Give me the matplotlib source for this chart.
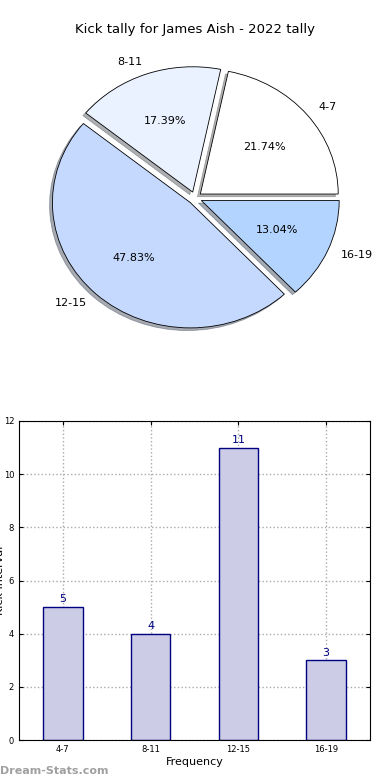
import matplotlib
matplotlib.use("Agg")
import matplotlib.pyplot as plt

groups = ["4-7", "8-11", "12-15", "16-19"]
counts = [5, 4, 11, 3]
pie_colors = ["#ffffff", "#eaf2ff", "#c5d9ff", "#b3d4ff"]

fig = plt.figure(figsize=(3.9, 7.8), dpi=100)

# pie on top (slightly wider than tall, like the original)
ax1 = fig.add_axes([2 / 390, 1 - 391 / 780, 386 / 390, 386 / 780])
ax1.pie(counts, labels=groups, colors=pie_colors, autopct="%.2f%%",
        startangle=0, explode=[0.05] * 4,
        shadow=dict(ox=-0.015, oy=-0.015, shade=0.6),
        wedgeprops=dict(edgecolor="black", linewidth=0.6),
        textprops=dict(fontsize=8))
ax1.set_aspect("auto")
ax1.set_xlim(-1.40, 1.40)
ax1.set_ylim(-1.54, 1.54)
fig.text(0.5, 1 - 30 / 780, "Kick tally for James Aish - 2022 tally",
         ha="center", va="center", fontsize=9.5)

# bars below
ax2 = fig.add_axes([19 / 390, 40 / 780, 351 / 390, 319 / 780])
x = range(len(groups))
ax2.bar(x, counts, width=0.45, color="#ccccE6", edgecolor="#000080",
        linewidth=1, zorder=2)
for i, c in zip(x, counts):
    ax2.text(i, c + 0.1, str(c), ha="center", va="bottom", color="#000080", fontsize=8)
ax2.set_xticks(list(x))
ax2.set_xticklabels(groups)
ax2.set_xlim(-0.5, 3.5)
ax2.set_ylim(0, 12)
ax2.set_yticks(range(0, 13, 2))
ax2.tick_params(labelsize=6, direction="in", top=True, right=True, length=3)
ax2.grid(True, ls=":", color="#aaaaaa", lw=1, zorder=0)
ax2.set_xlabel("Frequency", fontsize=8, labelpad=2)
fig.text(0.001, 1 - 580 / 780, "Kick Interval", rotation=90, ha="center",
         va="center", fontsize=8)

fig.text(0.0, 1 - 771 / 780, "Dream-Stats.com", ha="left", va="center",
         fontsize=8, color="#a0a0a0", fontweight="bold")

fig.savefig("out.png", dpi=100)
